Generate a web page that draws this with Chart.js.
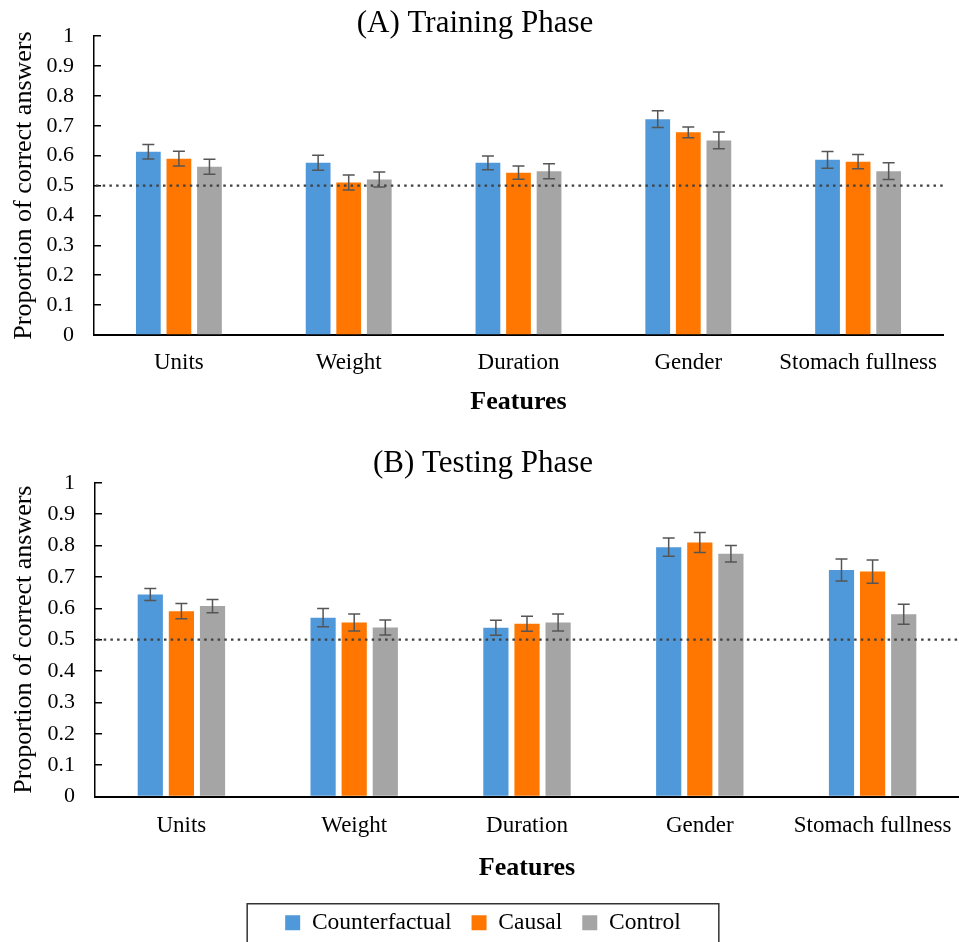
<!DOCTYPE html>
<html>
<head>
<meta charset="utf-8">
<script src="https://cdn.jsdelivr.net/npm/chart.js@4.4.1/dist/chart.umd.min.js"></script>
<style>
html,body{margin:0;padding:0;background:#fff;overflow:hidden;width:959px;height:942px;}
#wrapA{position:absolute;left:0;top:0;width:959px;height:430px;}
#wrapB{position:absolute;left:0;top:430px;width:959px;height:520px;}
</style>
</head>
<body>
<div id="wrapA"><canvas id="chartA"></canvas></div>
<div id="wrapB"><canvas id="chartB"></canvas></div>
<script>
// ---- Data ----
const categories = ["Units", "Weight", "Duration", "Gender", "Stomach fullness"];
const seriesNames = ["Counterfactual", "Causal", "Control"];
const seriesColors = ["#4F98D9", "#FF7700", "#A5A5A5"];

// (A) Training Phase
const trainCounterfactual = [0.613, 0.576, 0.576, 0.722, 0.586];
const trainCausal         = [0.590, 0.510, 0.543, 0.678, 0.580];
const trainControl        = [0.563, 0.520, 0.548, 0.651, 0.548];
const trainErrCounterfactual = [0.024, 0.025, 0.023, 0.028, 0.028];
const trainErrCausal         = [0.025, 0.025, 0.022, 0.018, 0.024];
const trainErrControl        = [0.025, 0.025, 0.025, 0.028, 0.028];

// (B) Testing Phase
const testCounterfactual = [0.644, 0.570, 0.538, 0.795, 0.722];
const testCausal         = [0.591, 0.555, 0.551, 0.810, 0.717];
const testControl        = [0.607, 0.539, 0.555, 0.774, 0.581];
const testErrCounterfactual = [0.019, 0.029, 0.024, 0.029, 0.035];
const testErrCausal         = [0.024, 0.027, 0.024, 0.032, 0.037];
const testErrControl        = [0.021, 0.024, 0.027, 0.026, 0.032];

const chanceLevel = 0.5;
const yTicks = [0, 0.1, 0.2, 0.3, 0.4, 0.5, 0.6, 0.7, 0.8, 0.9, 1];

const FONT = "'Liberation Serif', 'Times New Roman', serif";
Chart.defaults.font.family = FONT;
Chart.defaults.color = "#000";
Chart.defaults.animation = false;

// error bars + chance line plugin
const errorBarPlugin = {
  id: "errorBars",
  afterDatasetsDraw(chart) {
    const ctx = chart.ctx;
    const y = chart.scales.y;
    const area = chart.chartArea;
    const yc = y.getPixelForValue(chart.options.plugins.errorBars.chance);
    ctx.save();
    ctx.strokeStyle = "#404040";
    ctx.lineWidth = 2.2;
    ctx.setLineDash([2.5, 4.2]);
    ctx.beginPath();
    ctx.moveTo(area.left + 2, yc);
    ctx.lineTo(area.right, yc);
    ctx.stroke();
    ctx.restore();
    const errs = chart.options.plugins.errorBars.errors;
    ctx.save();
    ctx.strokeStyle = "#555555";
    ctx.lineWidth = 1.5;
    chart.data.datasets.forEach((ds, di) => {
      const meta = chart.getDatasetMeta(di);
      meta.data.forEach((bar, i) => {
        const v = ds.data[i], e = errs[di][i];
        const x = bar.x;
        const y1 = y.getPixelForValue(v + e), y2 = y.getPixelForValue(v - e);
        ctx.beginPath();
        ctx.moveTo(x, y1); ctx.lineTo(x, y2);
        ctx.moveTo(x - 6, y1); ctx.lineTo(x + 6, y1);
        ctx.moveTo(x - 6, y2); ctx.lineTo(x + 6, y2);
        ctx.stroke();
      });
    });
    ctx.restore();
  }
};

const legendBoxPlugin = {
  id: "legendBox",
  afterDraw(chart) {
    const lg = chart.legend;
    if (!lg || !lg.options.display || !lg.legendHitBoxes.length) return;
    const boxes = lg.legendHitBoxes;
    let l = Infinity, r = -Infinity, t = Infinity, h = 0;
    boxes.forEach(b => { l = Math.min(l, b.left); r = Math.max(r, b.left + b.width); t = Math.min(t, b.top); h = b.height; });
    const ctx = chart.ctx;
    ctx.save();
    ctx.strokeStyle = "#333";
    ctx.lineWidth = 1.5;
    const top = t + h / 2 - 19;
    ctx.strokeRect(l - 38, top, (r - l) + 38 + 38, 80);
    ctx.restore();
  }
};

function makeChart(id, title, vals, errs, opts) {
  return new Chart(document.getElementById(id), {
    type: "bar",
    data: {
      labels: categories,
      datasets: seriesNames.map((n, i) => ({
        label: n,
        data: vals[i],
        backgroundColor: seriesColors[i],
        borderWidth: 0,
        categoryPercentage: 0.54,
        barPercentage: 0.81
      }))
    },
    options: {
      responsive: true,
      maintainAspectRatio: false,
      layout: { padding: opts.padding },
      plugins: {
        title: {
          display: true, text: title,
          font: { size: 31, weight: "normal", family: FONT, lineHeight: opts.titleLH },
          color: "#000",
          padding: opts.titlePad
        },
        legend: opts.legend,
        tooltip: { enabled: false },
        errorBars: { errors: errs, chance: chanceLevel }
      },
      scales: {
        x: {
          grid: { display: false, drawTicks: false },
          border: { color: "#000", width: 2 },
          ticks: { font: { size: 23, lineHeight: opts.xTickLH }, color: "#000", padding: 0, maxRotation: 0, autoSkip: false },
          title: { display: true, text: "Features", font: { size: 26, weight: "bold" }, color: "#000", padding: { top: 0, bottom: opts.featPadBottom } },
          afterFit(s) { s.height = opts.xHeight; }
        },
        y: {
          min: 0, max: 1,
          afterBuildTicks(s) { s.ticks = yTicks.map(v => ({ value: v })); },
          grid: { display: true, drawOnChartArea: false, tickLength: -7, color: "#000", lineWidth: 1.5 },
          border: { color: "#000", width: 1.5 },
          ticks: { font: { size: 22 }, color: "#000", padding: 27, callback: v => String(v) },
          title: { display: true, text: "Proportion of correct answers", font: { size: 26 }, color: "#000", padding: { top: 2, bottom: 0 } },
          afterFit(s) { s.width = opts.yWidth; s.paddingTop = 14; s.paddingBottom = 14; }
        }
      }
    },
    plugins: [errorBarPlugin, legendBoxPlugin]
  });
}

makeChart("chartA", "(A) Training Phase",
  [trainCounterfactual, trainCausal, trainControl],
  [trainErrCounterfactual, trainErrCausal, trainErrControl],
  { padding: { left: 7, right: 16, top: 0, bottom: 14 }, titleLH: 0.6, titlePad: { top: 14.5, bottom: 3 },
    xTickLH: 2.43, featPadBottom: -2, xHeight: 81, yWidth: 87, legend: { display: false } });

makeChart("chartB", "(B) Testing Phase",
  [testCounterfactual, testCausal, testControl],
  [testErrCounterfactual, testErrCausal, testErrControl],
  { padding: { left: 7, right: 0, top: 0, bottom: 5.5 }, titleLH: 0.85, titlePad: { top: 20.5, bottom: 6 },
    xTickLH: 2.52, featPadBottom: 7, xHeight: 94.5, yWidth: 88,
    legend: { display: true, position: "bottom",
      labels: { boxWidth: 15, boxHeight: 15, padding: 20, font: { size: 23.5, family: FONT }, color: "#000" } } });
</script>
</body>
</html>
